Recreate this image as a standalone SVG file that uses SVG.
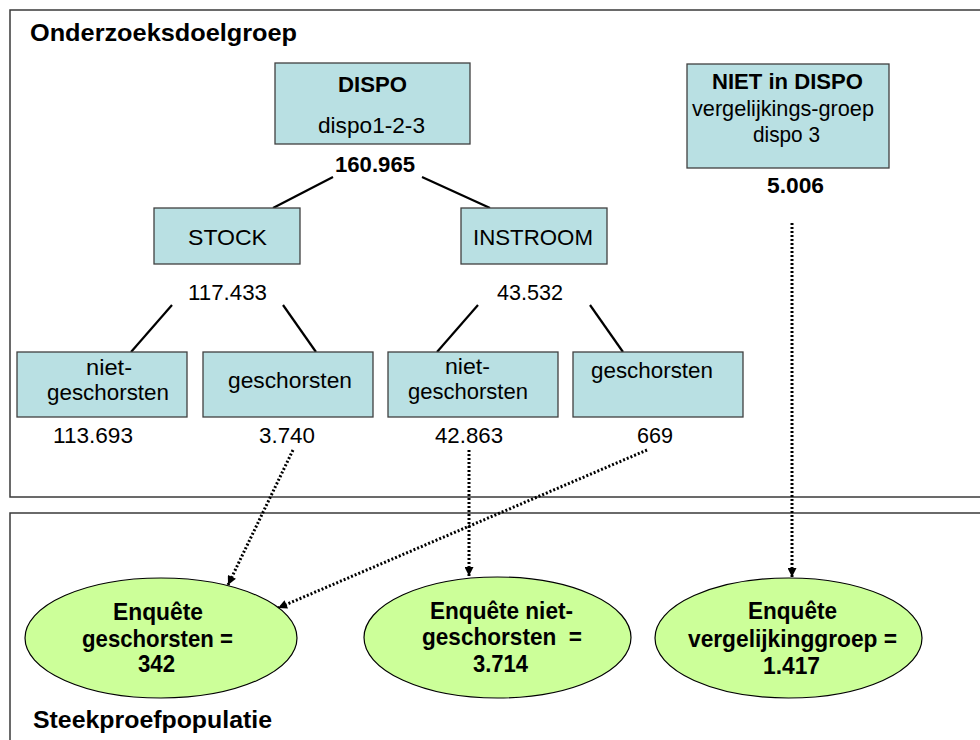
<svg xmlns="http://www.w3.org/2000/svg" width="980" height="740" viewBox="0 0 980 740">
<style>
.frame{fill:#ffffff;stroke:#3a3a3a;stroke-width:1.5}
.box{fill:#b9e0e3;stroke:#404040;stroke-width:1.3}
.ell{fill:#ccff99;stroke:#000000;stroke-width:1.2}
.t{font-family:"Liberation Sans",Arial,sans-serif;font-size:22px;fill:#000;text-anchor:middle}
.b{font-weight:bold}
.title{font-family:"Liberation Sans",Arial,sans-serif;font-size:24px;font-weight:bold;fill:#000}
.et{font-family:"Liberation Sans",Arial,sans-serif;font-size:24px;font-weight:bold;fill:#000;text-anchor:middle;white-space:pre}
.solid{stroke:#000;stroke-width:2.2;fill:none}
.dot{stroke:#000;stroke-width:3;fill:none;stroke-dasharray:2 2}
</style>
<defs>
<marker id="arr" viewBox="0 0 10 10" refX="10" refY="5" markerWidth="10" markerHeight="9" markerUnits="userSpaceOnUse" orient="auto">
<path d="M0,0 L10,5 L0,10 z" fill="#000"/>
</marker>
</defs>
<rect width="980" height="740" fill="#ffffff"/>
<g id="frame-onderzoeksdoelgroep">
<rect class="frame" x="10" y="10" width="990" height="487"/>
<text class="title" x="30" y="41" textLength="267" lengthAdjust="spacingAndGlyphs">Onderzoeksdoelgroep</text>
</g>
<g id="frame-steekproefpopulatie">
<rect class="frame" x="10" y="513" width="990" height="240"/>
<text class="title" x="33" y="728" textLength="239" lengthAdjust="spacingAndGlyphs">Steekproefpopulatie</text>
</g>
<g id="connectors">
<line class="solid" x1="333" y1="177" x2="273" y2="208"/>
<line class="solid" x1="422" y1="177" x2="490" y2="208"/>
<line class="solid" x1="172" y1="305" x2="131" y2="352"/>
<line class="solid" x1="283" y1="305" x2="316" y2="352"/>
<line class="solid" x1="478" y1="305" x2="437" y2="352"/>
<line class="solid" x1="590" y1="305" x2="623" y2="352"/>
<line class="dot" x1="293" y1="450" x2="228" y2="585" marker-end="url(#arr)"/>
<line class="dot" x1="647" y1="450" x2="278" y2="608" marker-end="url(#arr)"/>
<line class="dot" x1="469" y1="450" x2="469" y2="576" marker-end="url(#arr)"/>
<line class="dot" x1="792" y1="223" x2="792" y2="577" marker-end="url(#arr)"/>
</g>
<g id="dispo">
<rect class="box" x="275" y="63" width="195" height="81"/>
<text class="t b" x="372.5" y="92" textLength="69" lengthAdjust="spacingAndGlyphs">DISPO</text>
<text class="t" x="371.5" y="133" textLength="107" lengthAdjust="spacingAndGlyphs">dispo1-2-3</text>
<text class="t b" x="375" y="172" textLength="80" lengthAdjust="spacingAndGlyphs">160.965</text>
</g>
<g id="niet-in-dispo">
<rect class="box" x="687" y="64" width="202" height="104"/>
<text class="t b" x="787.5" y="89" textLength="151" lengthAdjust="spacingAndGlyphs">NIET in DISPO</text>
<text class="t" x="783" y="116" textLength="182" lengthAdjust="spacingAndGlyphs">vergelijkings-groep</text>
<text class="t" x="786.5" y="142" textLength="67" lengthAdjust="spacingAndGlyphs">dispo 3</text>
<text class="t b" x="795.5" y="193" textLength="57" lengthAdjust="spacingAndGlyphs">5.006</text>
</g>
<g id="stock">
<rect class="box" x="154" y="208" width="146" height="56"/>
<text class="t" x="227.5" y="245" textLength="79" lengthAdjust="spacingAndGlyphs">STOCK</text>
<text class="t" x="227.5" y="300" textLength="79" lengthAdjust="spacingAndGlyphs">117.433</text>
</g>
<g id="instroom">
<rect class="box" x="461" y="208" width="146" height="56"/>
<text class="t" x="533" y="245" textLength="120" lengthAdjust="spacingAndGlyphs">INSTROOM</text>
<text class="t" x="530" y="300" textLength="66" lengthAdjust="spacingAndGlyphs">43.532</text>
</g>
<g id="stock-niet-geschorsten">
<rect class="box" x="17" y="352" width="170" height="65"/>
<text class="t" x="109" y="375" textLength="46" lengthAdjust="spacingAndGlyphs">niet-</text>
<text class="t" x="108" y="400" textLength="122" lengthAdjust="spacingAndGlyphs">geschorsten</text>
<text class="t" x="93" y="443" textLength="80" lengthAdjust="spacingAndGlyphs">113.693</text>
</g>
<g id="stock-geschorsten">
<rect class="box" x="203" y="352" width="170" height="65"/>
<text class="t" x="290" y="388" textLength="124" lengthAdjust="spacingAndGlyphs">geschorsten</text>
<text class="t" x="287" y="443" textLength="56" lengthAdjust="spacingAndGlyphs">3.740</text>
</g>
<g id="instroom-niet-geschorsten">
<rect class="box" x="388" y="352" width="170" height="65"/>
<text class="t" x="467.5" y="374" textLength="45" lengthAdjust="spacingAndGlyphs">niet-</text>
<text class="t" x="468" y="399" textLength="120" lengthAdjust="spacingAndGlyphs">geschorsten</text>
<text class="t" x="469" y="443" textLength="68" lengthAdjust="spacingAndGlyphs">42.863</text>
</g>
<g id="instroom-geschorsten">
<rect class="box" x="573" y="352" width="170" height="65"/>
<text class="t" x="652" y="378" textLength="122" lengthAdjust="spacingAndGlyphs">geschorsten</text>
<text class="t" x="655" y="443" textLength="36" lengthAdjust="spacingAndGlyphs">669</text>
</g>
<g id="enquete-geschorsten">
<ellipse class="ell" cx="161" cy="638" rx="136" ry="60"/>
<text class="et" x="158" y="620" textLength="90" lengthAdjust="spacingAndGlyphs">Enquête</text>
<text class="et" x="157.5" y="647" textLength="151" lengthAdjust="spacingAndGlyphs">geschorsten =</text>
<text class="et" x="156.5" y="672" textLength="37" lengthAdjust="spacingAndGlyphs">342</text>
</g>
<g id="enquete-niet-geschorsten">
<ellipse class="ell" cx="497.5" cy="637.5" rx="133.5" ry="60.5"/>
<text class="et" x="501.5" y="619" textLength="143" lengthAdjust="spacingAndGlyphs">Enquête niet-</text>
<text class="et" x="502" y="645" textLength="160" lengthAdjust="spacingAndGlyphs">geschorsten  =</text>
<text class="et" x="500.5" y="672" textLength="55" lengthAdjust="spacingAndGlyphs">3.714</text>
</g>
<g id="enquete-vergelijkinggroep">
<ellipse class="ell" cx="788.5" cy="638" rx="133.5" ry="60"/>
<text class="et" x="792.5" y="619" textLength="89" lengthAdjust="spacingAndGlyphs">Enquête</text>
<text class="et" x="792.5" y="647" textLength="209" lengthAdjust="spacingAndGlyphs">vergelijkinggroep =</text>
<text class="et" x="791.5" y="674" textLength="57" lengthAdjust="spacingAndGlyphs">1.417</text>
</g>
</svg>
